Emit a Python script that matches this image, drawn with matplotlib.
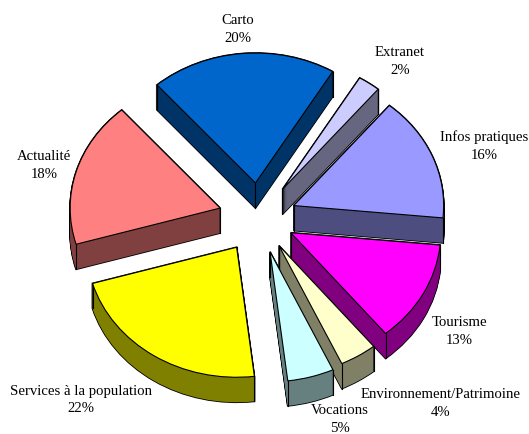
import numpy as np
from matplotlib import pyplot as plt

plt.rcParams['font.family'] = ['Liberation Serif', 'DejaVu Serif']

names = ['Carto', 'Extranet', 'Infos pratiques', 'Tourisme',
         'Environnement/Patrimoine', 'Vocations', 'Services à la population', 'Actualité']
shares = [20, 2.4, 15.5, 12.6, 4, 5, 22.4, 18.1]
shown = [20, 2, 16, 13, 4, 5, 22, 18]
top_colors = ['#0066CC', '#CCCCFF', '#9999FF', '#FF00FF', '#FFFFCC', '#CCFFFF', '#FFFF00', '#FF8080']
side_colors = ['#003366', '#666680', '#4D4D80', '#800080', '#808066', '#668080', '#808000', '#804040']

W, H = 529, 434
cx, cy = 259, 218   # pie centre in pixels
rx, ry = 150, 130   # squashed radii in pixels
depth = 25 / ry
start = 131
explode = [0.27, 0.27, 0.25, 0.24, 0.25, 0.27, 0.27, 0.27]

fig = plt.figure(figsize=(W / 100, H / 100), dpi=100)
ax = fig.add_axes([0, 0, 1, 1])


def layer(k, colors, **props):
    return ax.pie(shares, colors=colors, explode=explode, startangle=start, counterclock=False,
                  center=(0, -k), wedgeprops=props)[0]


levels = np.linspace(depth, 0, 26)

# black outline of the extruded sides, then the sides
for k in levels:
    layer(k, ['black'] * len(shares), edgecolor='black', linewidth=1.2)
for k in levels:
    layer(k, side_colors, edgecolor='none', linewidth=0)

# vertical ridges, the top faces hide the ones at the back
top = layer(0, top_colors, edgecolor='black', linewidth=0.8, zorder=4)
for w in top:
    x0, y0 = w.center
    xs = [x0]
    ys = [y0]
    for t in (w.theta1, w.theta2):
        xs.append(x0 + np.cos(np.radians(t)))
        ys.append(y0 + np.sin(np.radians(t)))
    for x, y in zip(xs, ys):
        ax.plot([x, x], [y, y - depth], color='black', lw=0.8, zorder=3)

ax.set_aspect('auto')
ax.set_xlim(-cx / rx, (W - cx) / rx)
ax.set_ylim(-(H - cy) / ry, cy / ry)
ax.axis('off')

label_pos = [(238, 30), (400, 61), (484, 146), (459, 331), (441, 403), (340, 419), (81, 400), (44, 165)]
for name, val, (px, py) in zip(names, shown, label_pos):
    fig.text(px / W, 1 - py / H, f'{name}\n{val}%', ha='center', va='center',
             fontsize=10.6, linespacing=1.5, color='black')

fig.savefig('out.png', dpi=100)
